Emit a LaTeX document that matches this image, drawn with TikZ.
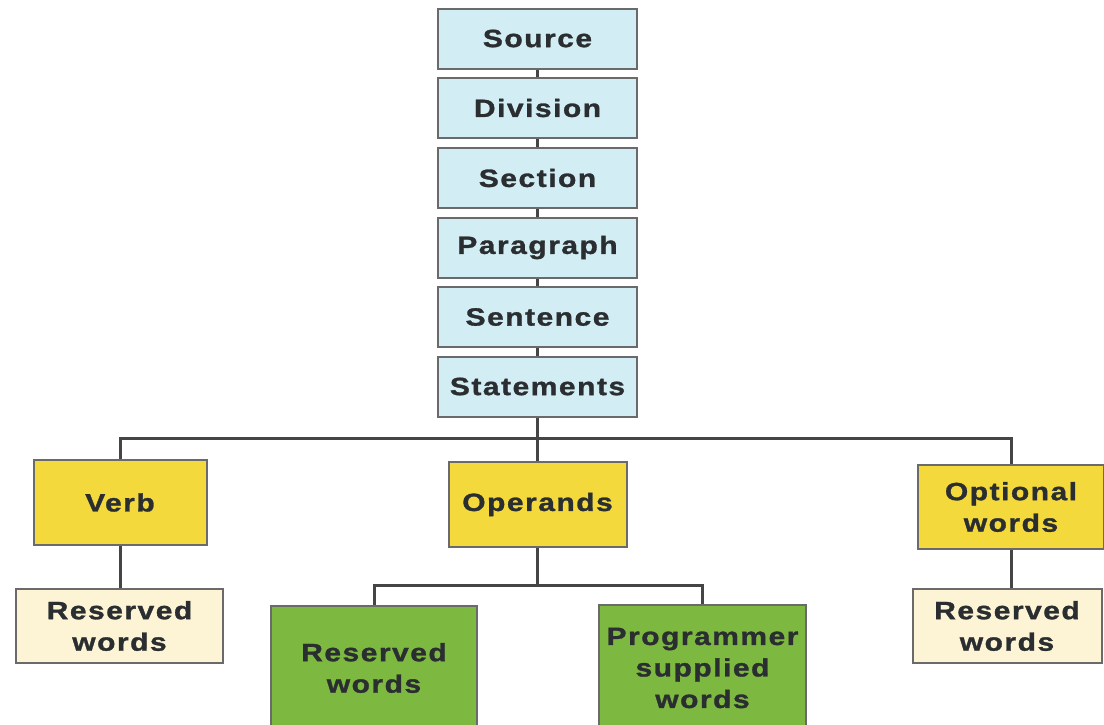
\documentclass[tikz,border=0pt]{standalone}
\usepackage{fontspec}
\setmainfont{Liberation Sans}[LetterSpace=6, FakeStretch=1.2, BoldFeatures={FakeBold=1.2}]
\begin{document}
\definecolor{boxblue}{HTML}{D3EDF4}
\definecolor{boxyellow}{HTML}{F4D93C}
\definecolor{boxcream}{HTML}{FCF4D4}
\definecolor{boxgreen}{HTML}{7DB940}
\definecolor{edge}{HTML}{6A6A6A}
\definecolor{wire}{HTML}{454545}
\definecolor{ink}{HTML}{2A2E30}
\begin{tikzpicture}[x=1pt,y=-1pt,
  base/.style={draw=edge, line width=2pt, text=ink, font=\fontsize{25}{31.5}\selectfont\bfseries,
    align=center, inner sep=0pt, anchor=center},
  bluebox/.style={base, fill=boxblue, minimum width=199pt, minimum height=60pt},
  yellowbox/.style={base, fill=boxyellow},
  creambox/.style={base, fill=boxcream},
  greenbox/.style={base, fill=boxgreen},
  link/.style={draw=wire, line width=3pt}]
\useasboundingbox (0,0) rectangle (1104,724);
\begin{scope}
\clip (0,0) rectangle (1104,724);
% chain of blue levels
\node[bluebox] (src) at (537.5,38.5) {Source};
\node[bluebox] (div) at (537.5,108) {Division};
\node[bluebox] (sec) at (537.5,178) {Section};
\node[bluebox] (par) at (537.5,247.5) {Paragraph};
\node[bluebox] (sen) at (537.5,317) {Sentence};
\node[bluebox] (stm) at (537.5,386.5) {Statements};
% statement parts
\node[yellowbox, minimum width=173pt, minimum height=85pt] (verb) at (120,502.5) {Verb};
\node[yellowbox, minimum width=178pt, minimum height=85pt] (ops) at (537.5,504.5) {Operands};
\node[yellowbox, minimum width=186pt, minimum height=84pt] (opt) at (1011,507) {Optional\\words};
\node[creambox, minimum width=207pt, minimum height=74pt] (resl) at (119.5,626) {Reserved\\words};
\node[creambox, minimum width=189pt, minimum height=74pt] (resr) at (1007,626) {Reserved\\words};
\node[greenbox, minimum width=206pt, minimum height=124pt] (gl) at (374,668) {Reserved\\words};
\node[greenbox, minimum width=207pt, minimum height=126pt] (gp) at (702.5,668) {Programmer\\supplied\\words};
\end{scope}
% connectors
\coordinate (bus) at (537.5,438);
\coordinate (bus2) at (537.5,585);
\draw[link] (src) -- (div);
\draw[link] (div) -- (sec);
\draw[link] (sec) -- (par);
\draw[link] (par) -- (sen);
\draw[link] (sen) -- (stm);
\draw[link] (stm.south) -- (bus) -- (ops.north);
\draw[link] (verb.north) |- (bus) -| (opt.north);
\draw[link] (verb.south) -- (verb.south |- resl.north);
\draw[link] (opt.south) -- (opt.south |- resr.north);
\draw[link] (ops.south) -- (bus2);
\draw[link] (gl.north) |- (bus2) -| (gp.north);
\end{tikzpicture}
\end{document}
